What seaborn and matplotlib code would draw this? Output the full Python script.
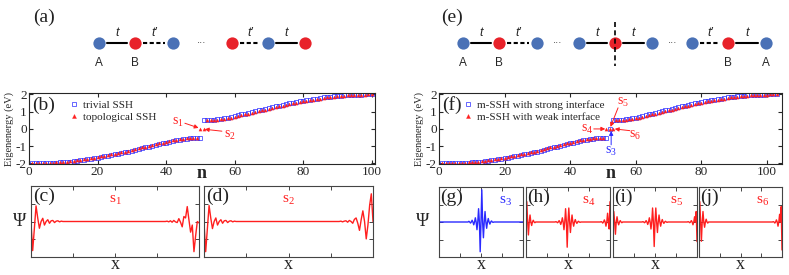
import matplotlib
matplotlib.use("Agg")
import matplotlib.pyplot as plt
import seaborn as sns

# ---------------- data ----------------
# (b) eigenenergies, n = 1..100
n_b = list(range(1, 101))
trivial_E = [
    -2.00, -2.00, -2.00, -1.99, -1.99, -1.98, -1.97, -1.95, -1.94, -1.92,
    -1.91, -1.89, -1.86, -1.84, -1.82, -1.79, -1.76, -1.73, -1.70, -1.67,
    -1.63, -1.59, -1.56, -1.52, -1.48, -1.44, -1.40, -1.35, -1.31, -1.26,
    -1.22, -1.17, -1.12, -1.07, -1.03, -0.98, -0.93, -0.88, -0.84, -0.79,
    -0.74, -0.70, -0.66, -0.62, -0.59, -0.56, -0.53, -0.52, -0.50, -0.50,
    0.50, 0.50, 0.52, 0.53, 0.56, 0.59, 0.62, 0.66, 0.70, 0.74,
    0.79, 0.84, 0.88, 0.93, 0.98, 1.03, 1.07, 1.12, 1.17, 1.22,
    1.26, 1.31, 1.35, 1.40, 1.44, 1.48, 1.52, 1.56, 1.59, 1.63,
    1.67, 1.70, 1.73, 1.76, 1.79, 1.82, 1.84, 1.86, 1.89, 1.91,
    1.92, 1.94, 1.95, 1.97, 1.98, 1.99, 1.99, 2.00, 2.00, 2.00]
topo_E = [
    -2.00, -2.00, -1.99, -1.99, -1.98, -1.97, -1.95, -1.94, -1.92, -1.91,
    -1.89, -1.86, -1.84, -1.82, -1.79, -1.76, -1.73, -1.70, -1.67, -1.63,
    -1.59, -1.56, -1.52, -1.48, -1.44, -1.40, -1.35, -1.31, -1.26, -1.22,
    -1.17, -1.12, -1.07, -1.03, -0.98, -0.93, -0.88, -0.84, -0.79, -0.74,
    -0.70, -0.66, -0.62, -0.59, -0.56, -0.53, -0.52, -0.50, -0.50, 0.00,
    0.00, 0.50, 0.50, 0.52, 0.53, 0.56, 0.59, 0.62, 0.66, 0.70,
    0.74, 0.79, 0.84, 0.88, 0.93, 0.98, 1.03, 1.07, 1.12, 1.17,
    1.22, 1.26, 1.31, 1.35, 1.40, 1.44, 1.48, 1.52, 1.56, 1.59,
    1.63, 1.67, 1.70, 1.73, 1.76, 1.79, 1.82, 1.84, 1.86, 1.89,
    1.91, 1.92, 1.94, 1.95, 1.97, 1.98, 1.99, 1.99, 2.00, 2.00]

# (f) eigenenergies, n = 1..103
n_f = list(range(1, 104))
strong_E = [
    -2.00, -2.00, -2.00, -2.00, -1.99, -1.99, -1.98, -1.97, -1.95, -1.94,
    -1.92, -1.91, -1.89, -1.86, -1.84, -1.82, -1.79, -1.76, -1.73, -1.70,
    -1.67, -1.63, -1.59, -1.56, -1.52, -1.48, -1.44, -1.40, -1.35, -1.31,
    -1.26, -1.22, -1.17, -1.12, -1.07, -1.03, -0.98, -0.93, -0.88, -0.84,
    -0.79, -0.74, -0.70, -0.66, -0.62, -0.59, -0.56, -0.53, -0.52, -0.50,
    -0.50, 0.00,
    0.50, 0.50, 0.52, 0.53, 0.56, 0.59, 0.62, 0.66, 0.70, 0.74,
    0.79, 0.84, 0.88, 0.93, 0.98, 1.03, 1.07, 1.12, 1.17, 1.22,
    1.26, 1.31, 1.35, 1.40, 1.44, 1.48, 1.52, 1.56, 1.59, 1.63,
    1.67, 1.70, 1.73, 1.76, 1.79, 1.82, 1.84, 1.86, 1.89, 1.91,
    1.92, 1.94, 1.95, 1.97, 1.98, 1.99, 1.99, 2.00, 2.00, 2.00, 2.00]
weak_E = [
    -2.00, -2.00, -2.00, -1.99, -1.99, -1.98, -1.97, -1.95, -1.94, -1.92,
    -1.91, -1.89, -1.86, -1.84, -1.82, -1.79, -1.76, -1.73, -1.70, -1.67,
    -1.63, -1.59, -1.56, -1.52, -1.48, -1.44, -1.40, -1.35, -1.31, -1.26,
    -1.22, -1.17, -1.12, -1.07, -1.03, -0.98, -0.93, -0.88, -0.84, -0.79,
    -0.74, -0.70, -0.66, -0.62, -0.59, -0.56, -0.53, -0.52, -0.50, -0.50,
    0.00, 0.00, 0.00,
    0.50, 0.50, 0.52, 0.53, 0.56, 0.59, 0.62, 0.66, 0.70, 0.74,
    0.79, 0.84, 0.88, 0.93, 0.98, 1.03, 1.07, 1.12, 1.17, 1.22,
    1.26, 1.31, 1.35, 1.40, 1.44, 1.48, 1.52, 1.56, 1.59, 1.63,
    1.67, 1.70, 1.73, 1.76, 1.79, 1.82, 1.84, 1.86, 1.89, 1.91,
    1.92, 1.94, 1.95, 1.97, 1.98, 1.99, 1.99, 2.00, 2.00, 2.00]

# (c),(d) wavefunctions on sites 0..100
x_cd = list(range(0, 101))
psi_s1 = ([-0.04, -0.82, -0.20, 0.44, 0.10, -0.19, 0.00, 0.09, -0.10, 0.00,
           0.05, -0.05, 0.02, 0.03, -0.03, 0.01, 0.02, -0.01, 0.01, 0.00]
          + [0.0] * 60
          + [0.00, 0.01, -0.01, 0.02, -0.02, 0.03, -0.01, -0.03, 0.08, -0.02,
             -0.15, 0.14, 0.10, 0.42, 0.05, -0.30, -0.10, -0.85, -0.40, 0.00, -0.04])
psi_s2 = ([-0.04, -0.85, -0.20, 0.45, 0.10, -0.20, 0.00, 0.10, -0.10, 0.00,
           0.05, -0.05, 0.02, 0.03, -0.03, 0.01, 0.02, -0.01, 0.01, 0.00]
          + [0.0] * 60
          + [0.00, 0.01, -0.01, 0.01, 0.02, -0.02, 0.03, 0.00, -0.05, 0.06,
             0.10, -0.05, -0.25, 0.05, 0.30, 0.00, -0.49, -0.10, 0.45, 0.78, 0.00])

# (g)-(j) wavefunctions on sites 0..104
x_gj = list(range(0, 105))
psi_s3 = ([0.0] * 36
          + [0.00, 0.02, 0.00, -0.03, 0.00, 0.05, 0.00, -0.08, 0.00, 0.12,
             0.00, -0.22, 0.00, 0.38, 0.00, -0.85, 0.00, 0.92, 0.00, -0.45,
             0.00, 0.30, 0.00, -0.18, 0.00, 0.10, 0.00, -0.06, 0.00, 0.03,
             0.00, -0.01, 0.00]
          + [0.0] * 36)
psi_s4 = ([0.00, 0.58, 0.00, -0.37, 0.00, 0.20, 0.00, -0.10, 0.00, 0.05,
           0.00, -0.02, 0.00]
          + [0.0] * 23
          + [0.00, 0.01, 0.00, -0.02, 0.00, 0.04, 0.00, -0.07, 0.00, 0.12,
             0.00, -0.22, 0.00, 0.38, 0.00, -0.72, 0.00, 0.40, 0.00, -0.30,
             0.00, 0.20, 0.00, -0.12, 0.00, 0.07, 0.00, -0.04, 0.00, 0.02,
             0.00, -0.01, 0.00]
          + [0.0] * 23
          + [0.00, 0.01, 0.00, -0.03, 0.00, 0.06, 0.00, -0.12, 0.00, 0.25,
             0.00, -0.20, 0.58])
psi_s5 = ([0.00, 0.30, 0.00, -0.35, 0.00, 0.15, 0.00, -0.08, 0.00, 0.04,
           0.00, -0.02, 0.00]
          + [0.0] * 23
          + [0.00, 0.01, 0.00, -0.02, 0.00, 0.04, 0.00, -0.07, 0.00, 0.12,
             0.00, -0.20, 0.00, 0.40, 0.00, -0.70, 0.00, 0.40, 0.00, -0.30,
             0.00, 0.20, 0.00, -0.12, 0.00, 0.07, 0.00, -0.04, 0.00, 0.02,
             0.00, -0.01, 0.00]
          + [0.0] * 23
          + [0.00, 0.01, 0.00, -0.02, 0.00, 0.04, 0.00, -0.08, 0.00, 0.15,
             0.00, 0.30, -0.56])
psi_s6 = ([0.00, 0.58, 0.00, -0.55, 0.00, 0.30, 0.00, -0.15, 0.00, 0.08,
           0.00, -0.03, 0.00]
          + [0.0] * 79
          + [0.00, 0.01, 0.00, -0.03, 0.00, 0.06, 0.00, -0.12, 0.00, 0.22,
             0.00, 0.44, -0.80])

RED = '#ff1f1f'
BLUE = '#2a2aff'
SITE_BLUE = '#4a71b6'
SITE_RED = '#e8222a'

sns.set_style("ticks")
plt.rcParams['font.family'] = ['Liberation Serif', 'DejaVu Serif']
plt.rcParams['mathtext.fontset'] = 'custom'
plt.rcParams['mathtext.rm'] = 'Liberation Serif'
plt.rcParams['mathtext.it'] = 'Liberation Serif:italic'
plt.rcParams['axes.unicode_minus'] = False
plt.rcParams['axes.linewidth'] = 0.8

W, H = 789, 275
fig = plt.figure(figsize=(W / 100, H / 100), dpi=100)


def px_axes(left, top, right, bottom):
    # axes from pixel box
    return fig.add_axes([left / W, 1 - bottom / H, (right - left) / W, (bottom - top) / H])


# ---------------- schematics (a) and (e) ----------------
sk = fig.add_axes([0, 0, 1, 1])
sk.set_xlim(0, W)
sk.set_ylim(H, 0)
sk.axis('off')
sans = ['Liberation Sans', 'DejaVu Sans']


def chain(sites, bonds, dots, labels):
    y = 43
    for x1, x2, ls, name in bonds:
        sk.plot([x1 + 8, x2 - 8], [y, y], color='black', lw=1.5,
                linestyle=ls, dashes=(2, 1.2) if ls == '--' else (None, None))
        sk.text((x1 + x2) / 2, 33, name, family=sans, style='italic',
                fontsize=9, ha='center', va='center')
    for x, c in sites:
        sk.scatter([x], [y], s=78, color=SITE_BLUE if c == 'b' else SITE_RED,
                   zorder=3, linewidths=0)
    for x in dots:
        sk.text(x, y, '···', family=sans, fontsize=7, ha='center', va='center')
    for x, t in labels:
        sk.text(x, 63, t, family=sans, fontsize=8.5, ha='center', va='center')


chain([(99, 'b'), (135, 'r'), (173, 'b'), (232, 'r'), (268, 'b'), (305, 'r')],
      [(99, 135, '-', 't'), (135, 173, '--', 't\u2032'),
       (232, 268, '--', 't\u2032'), (268, 305, '-', 't')],
      [202], [(99, 'A'), (135, 'B')])
chain([(463, 'b'), (499, 'r'), (537, 'b'), (579, 'b'), (615, 'r'), (652, 'b'),
       (692, 'b'), (728, 'r'), (766, 'b')],
      [(463, 499, '-', 't'), (499, 537, '--', 't\u2032'), (579, 615, '-', 't'),
       (615, 652, '-', 't'), (692, 728, '--', 't\u2032'), (728, 766, '-', 't')],
      [558, 673], [(463, 'A'), (499, 'B'), (728, 'B'), (766, 'A')])
sk.plot([615, 615], [22, 66], color='black', lw=1.2, linestyle='--', dashes=(3, 2), zorder=4)
sk.text(44, 17, '(a)', fontsize=14, ha='center', va='center', color='#222222')
sk.text(452, 17, '(e)', fontsize=14, ha='center', va='center', color='#222222')


# ---------------- eigenenergy panels ----------------
def eig_panel(ax, n, e_blue, e_red, lab_blue, lab_red, xmax):
    sns.lineplot(x=n, y=e_blue, ax=ax, estimator=None, color=BLUE, marker='s',
                 linestyle='none', markersize=2.4, markerfacecolor='none',
                 markeredgecolor=BLUE, markeredgewidth=0.5, label=lab_blue)
    sns.lineplot(x=n, y=e_red, ax=ax, estimator=None, color=RED, marker='^',
                 linestyle='none', markersize=2.3, markerfacecolor=RED,
                 markeredgecolor=RED, markeredgewidth=0.2, label=lab_red)
    ax.set_xlim(0, xmax)
    ax.set_ylim(-2.03, 2.08)
    ax.set_xticks([0, 20, 40, 60, 80, 100])
    ax.set_yticks([-2, -1, 0, 1, 2])
    ax.tick_params(direction='in', top=True, right=True, length=3, width=0.8,
                   labelsize=9.5, pad=1.5)
    ax.set_xlabel('')
    ax.set_ylabel('Eigenenergy (eV)', fontsize=7.5, labelpad=1)
    ax.text(0.5, -0.02, 'n', transform=ax.transAxes, fontsize=13,
            fontweight='bold', ha='center', va='top')


def arrow(ax, tip, tail, color):
    ax.annotate('', xy=tip, xytext=tail,
                arrowprops=dict(arrowstyle='-|>', color=color, lw=0.7,
                                mutation_scale=6, shrinkA=0, shrinkB=0))


ax_b = px_axes(29, 93, 375, 164)
eig_panel(ax_b, n_b, trivial_E, topo_E, 'trivial SSH', 'topological SSH', 101)
ax_b.legend(loc='upper left', bbox_to_anchor=(0.105, 0.96), frameon=False,
            fontsize=8, handlelength=0.8, handletextpad=0.4, labelspacing=0.15,
            borderaxespad=0, markerscale=1.3)
ax_b.text(0.008, 0.95, '(b)', transform=ax_b.transAxes, fontsize=14,
          va='top', ha='left', color='#222222')
ax_b.text(43.5, 0.36, 's$_1$', color=RED, fontsize=10, ha='center', va='center')
ax_b.text(58.6, -0.36, 's$_2$', color=RED, fontsize=10, ha='center', va='center')
arrow(ax_b, (n_b[49] - 0.5, topo_E[49] + 0.06), (45.5, 0.33), RED)
arrow(ax_b, (n_b[50] + 0.3, topo_E[50] - 0.02), (56.3, -0.13), RED)

ax_f = px_axes(439, 93, 782, 164)
eig_panel(ax_f, n_f, strong_E, weak_E, 'm-SSH with strong interface',
          'm-SSH with weak interface', 104.6)
ax_f.legend(loc='upper left', bbox_to_anchor=(0.06, 0.96), frameon=False,
            fontsize=8, handlelength=0.8, handletextpad=0.4, labelspacing=0.15,
            borderaxespad=0, markerscale=1.3)
ax_f.text(0.008, 0.95, '(f)', transform=ax_f.transAxes, fontsize=14,
          va='top', ha='left', color='#222222')
ax_f.text(45.3, -0.05, 's$_4$', color=RED, fontsize=10, ha='center', va='center')
ax_f.text(56.0, 1.55, 's$_5$', color=RED, fontsize=10, ha='center', va='center')
ax_f.text(59.8, -0.40, 's$_6$', color=RED, fontsize=10, ha='center', va='center')
ax_f.text(52.5, -1.30, 's$_3$', color=BLUE, fontsize=10, ha='center', va='center')
arrow(ax_f, (n_f[50] - 0.3, weak_E[50]), (47.2, 0.0), RED)
arrow(ax_f, (n_f[51] + 0.3, weak_E[51] + 0.12), (54.6, 1.22), RED)
arrow(ax_f, (n_f[52] + 0.6, weak_E[52]), (58.2, -0.1), RED)
arrow(ax_f, (n_f[51] + 0.5, strong_E[51] - 0.12), (52.5, -0.92), BLUE)


# ---------------- wavefunction panels ----------------
def psi_panel(ax, x, psi, color, letter, state, state_x):
    sns.lineplot(x=x, y=psi, ax=ax, estimator=None, sort=False, color=color, lw=1.0)
    ax.set_xlim(x[0], x[-1])
    ax.set_ylim(-1, 1)
    ax.set_xticks([x[0] + (x[-1] - x[0]) * f for f in (0, 0.25, 0.5, 0.75, 1)])
    ax.set_yticks([-0.5, 0, 0.5])
    ax.tick_params(direction='in', top=True, right=True, length=3, width=0.7,
                   labelbottom=False, labelleft=False, color='#444444')
    for s in ax.spines.values():
        s.set_color('#444444')
    ax.set_xlabel('')
    ax.set_ylabel('')
    ax.text(0.01, 0.98, letter, transform=ax.transAxes, fontsize=14,
            va='top', ha='left', color='#222222')
    ax.text(state_x, 0.8, state, transform=ax.transAxes, color=color,
            fontsize=11, ha='center', va='center')
    ax.text(0.5, -0.11, 'x', transform=ax.transAxes, fontsize=13,
            ha='center', va='center')


psi_panel(px_axes(31, 186, 199, 257), x_cd, psi_s1, RED, '(c)', 's$_1$', 0.5)
psi_panel(px_axes(204, 186, 373, 257), x_cd, psi_s2, RED, '(d)', 's$_2$', 0.5)
psi_panel(px_axes(439, 187, 523, 257), x_gj, psi_s3, BLUE, '(g)', 's$_3$', 0.79)
psi_panel(px_axes(526, 187, 610, 257), x_gj, psi_s4, RED, '(h)', 's$_4$', 0.74)
psi_panel(px_axes(613, 187, 697, 257), x_gj, psi_s5, RED, '(i)', 's$_5$', 0.76)
psi_panel(px_axes(699, 187, 782, 257), x_gj, psi_s6, RED, '(j)', 's$_6$', 0.76)

fig.text(20 / W, 1 - 222 / H, '\u03a8', fontsize=13, ha='center', va='center')
fig.text(423 / W, 1 - 222 / H, '\u03a8', fontsize=13, ha='center', va='center')

fig.savefig('out.png', dpi=100)
